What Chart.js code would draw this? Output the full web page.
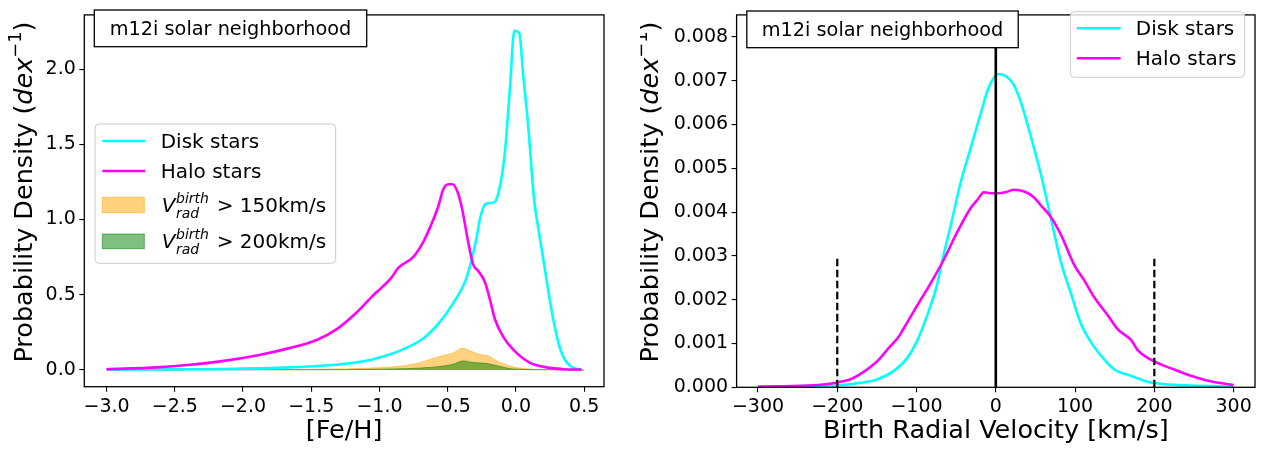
<!DOCTYPE html>
<html>
<head>
<meta charset="utf-8">
<script src="https://cdn.jsdelivr.net/npm/chart.js@4.4.1/dist/chart.umd.min.js"></script>
<style>
  body { margin: 0; background: #fff; }
  #left { position: absolute; left: 0; top: 0; }
  #right { position: absolute; left: 640px; top: 0; }
</style>
</head>
<body>
<canvas id="left" width="620" height="454"></canvas>
<canvas id="right" width="629" height="454"></canvas>
<script>
// ---- left panel: [Fe/H] distributions ----
var fehDiskX = [-3.0, -2.5, -2.14, -1.66, -1.29, -1.05, -0.92, -0.85, -0.68, -0.56, -0.46, -0.37, -0.325, -0.29, -0.265, -0.227, -0.19, -0.154, -0.117, -0.081, -0.044, -0.012, 0.024, 0.053, 0.09, 0.13, 0.176, 0.225, 0.273, 0.322, 0.36, 0.396, 0.44, 0.48];
var fehDiskY = [0.002, 0.004, 0.006, 0.017, 0.038, 0.07, 0.105, 0.128, 0.209, 0.316, 0.444, 0.594, 0.733, 0.872, 1.0, 1.10, 1.11, 1.118, 1.224, 1.449, 1.876, 2.256, 2.24, 1.96, 1.62, 1.16, 0.872, 0.594, 0.337, 0.145, 0.065, 0.028, 0.008, 0.002];

var fehHaloX = [-3.0, -2.63, -2.39, -2.14, -1.9, -1.66, -1.46, -1.31, -1.17, -1.045, -0.92, -0.86, -0.75, -0.68, -0.62, -0.57, -0.533, -0.496, -0.464, -0.43, -0.398, -0.35, -0.313, -0.276, -0.227, -0.19, -0.154, -0.093, -0.02, 0.1, 0.225, 0.35, 0.48];
var fehHaloY = [0.005, 0.017, 0.034, 0.06, 0.096, 0.145, 0.199, 0.273, 0.38, 0.497, 0.605, 0.68, 0.754, 0.85, 0.968, 1.085, 1.20, 1.235, 1.235, 1.188, 1.085, 0.85, 0.70, 0.658, 0.583, 0.465, 0.337, 0.22, 0.135, 0.049, 0.017, 0.005, 0.002];

var feh150X = [-3.0, -2.0, -1.5, -1.0, -0.75, -0.56, -0.46, -0.39, -0.34, -0.265, -0.2, -0.14, -0.045, 0.05, 0.2, 0.5];
var feh150Y = [0.0, 0.002, 0.005, 0.015, 0.038, 0.09, 0.113, 0.145, 0.128, 0.102, 0.092, 0.06, 0.026, 0.01, 0.003, 0.0];

var feh200X = [-3.0, -1.5, -1.0, -0.63, -0.46, -0.39, -0.31, -0.215, -0.14, -0.02, 0.2, 0.5];
var feh200Y = [0.0, 0.001, 0.005, 0.017, 0.038, 0.06, 0.049, 0.043, 0.028, 0.006, 0.001, 0.0];

// ---- right panel: birth radial velocity ----
var velDiskX = [-300, -240, -200, -176, -150, -129, -112, -100, -87, -74, -66, -57, -45, -32, -19, -9, 3, 21, 31, 44, 57, 69, 82, 95, 107, 120, 137, 150, 171, 192, 213, 247, 300];
var velDiskY = [0.0, 0.00001, 0.00004, 0.00009, 0.00018, 0.00037, 0.00066, 0.00103, 0.00162, 0.00235, 0.00301, 0.00368, 0.00463, 0.00544, 0.00625, 0.00684, 0.00715, 0.00695, 0.00654, 0.00574, 0.00485, 0.00390, 0.00287, 0.00213, 0.00147, 0.00103, 0.00063, 0.00040, 0.00026, 0.000125, 0.00007, 0.00004, 0.000015];

var velHaloX = [-300, -239, -214, -200, -184, -172, -155, -146, -136, -123, -117, -100, -83, -66, -49, -32, -24, -15, -7, 2, 12, 23, 36, 48, 57, 69, 82, 99, 112, 124, 141, 154, 171, 179, 200, 226, 247, 268, 300];
var velHaloY = [0.000015, 0.00004, 0.00007, 0.00011, 0.00018, 0.00029, 0.00051, 0.00066, 0.00088, 0.00114, 0.00132, 0.00184, 0.00235, 0.00290, 0.00353, 0.00408, 0.00426, 0.00445, 0.00443, 0.00443, 0.00445, 0.00451, 0.00447, 0.00434, 0.00415, 0.00390, 0.00349, 0.00279, 0.00243, 0.00206, 0.00165, 0.00132, 0.00107, 0.00085, 0.00059, 0.00040, 0.00026, 0.00015, 0.00005];

var refLineX = [-200, 0, 200];
var refLineTop = [0.003, 0.0085, 0.003];

var FONT = '"DejaVu Sans", sans-serif';
Chart.defaults.font.family = FONT;
Chart.defaults.color = '#000';

function pts(xs, ys) {
  var out = [];
  for (var i = 0; i < xs.length; i++) out.push({x: xs[i], y: ys[i]});
  return out;
}

function fmt(d) {
  return function(v) {
    var s = Math.abs(v).toFixed(d);
    return (v < -1e-9 ? '\u2212' : '') + s;
  };
}

function curve(label, xs, ys, color, order) {
  return {
    label: label, data: pts(xs, ys), borderColor: color, borderWidth: 2.6,
    pointRadius: 0, fill: false, cubicInterpolationMode: 'monotone', order: order
  };
}

function band(label, xs, ys, rgb, order) {
  return {
    label: label, data: pts(xs, ys), borderColor: 'rgba(' + rgb + ',0.55)', borderWidth: 1,
    backgroundColor: 'rgba(' + rgb + ',0.5)', pointRadius: 0, fill: 'origin',
    cubicInterpolationMode: 'monotone', order: order
  };
}

function axis(min, max, step, digits, size, title) {
  var a = {
    type: 'linear', min: min, max: max,
    ticks: {stepSize: step, includeBounds: false, autoSkip: false, maxRotation: 0,
            callback: fmt(digits), font: {size: 19}, color: '#000', padding: 3.5},
    grid: {drawOnChartArea: false, drawTicks: true, tickLength: 5, color: '#000', lineWidth: 1.1},
    border: {display: false}
  };
  if (title) {
    a.title = {display: true, text: title, color: '#000',
               font: {size: 25.5, lineHeight: 1.2}, padding: {top: 0, bottom: 7}};
    a.afterFit = function(s) { s.height = size; };
  } else {
    a.afterFit = function(s) { s.width = size; };
  }
  return a;
}

// rotated y label with italic "dex" and superscript -1
function yTitle(ctx, bx, cy) {
  var fs = 25.5;
  var parts = [
    ['Probability Density (', fs + 'px ' + FONT, 0],
    ['dex', 'italic ' + fs + 'px ' + FONT, 0],
    ['\u22121', (fs * 0.7) + 'px ' + FONT, -fs * 0.42],
    [')', fs + 'px ' + FONT, 0]
  ];
  var total = 0;
  parts.forEach(function(p) { ctx.font = p[1]; p.push(ctx.measureText(p[0]).width); total += p[3]; });
  ctx.save();
  ctx.translate(bx, cy);
  ctx.rotate(-Math.PI / 2);
  ctx.fillStyle = '#000';
  ctx.textBaseline = 'alphabetic';
  var x = -total / 2;
  parts.forEach(function(p) { ctx.font = p[1]; ctx.fillText(p[0], x, p[2]); x += p[3]; });
  ctx.restore();
}

function textBox(ctx, x, y, w, h, base) {
  ctx.save();
  ctx.fillStyle = '#fff';
  ctx.fillRect(x, y, w, h);
  ctx.strokeStyle = '#000';
  ctx.lineWidth = 1.3;
  ctx.strokeRect(x, y, w, h);
  ctx.fillStyle = '#000';
  ctx.font = '19.3px ' + FONT;
  ctx.textAlign = 'center';
  ctx.fillText('m12i solar neighborhood', x + w / 2, base);
  ctx.restore();
}

function legendFrame(ctx, x, y, w, h) {
  ctx.save();
  ctx.beginPath();
  ctx.roundRect(x, y, w, h, 4);
  ctx.fillStyle = 'rgba(255,255,255,0.8)';
  ctx.fill();
  ctx.strokeStyle = '#cccccc';
  ctx.lineWidth = 1;
  ctx.stroke();
  ctx.restore();
}

function legendLine(ctx, x0, x1, y, color, label, tx, base) {
  ctx.save();
  ctx.strokeStyle = color;
  ctx.lineWidth = 2.6;
  ctx.beginPath(); ctx.moveTo(x0, y); ctx.lineTo(x1, y); ctx.stroke();
  ctx.fillStyle = '#000';
  ctx.font = '20px ' + FONT;
  ctx.fillText(label, tx, base);
  ctx.restore();
}

function legendPatch(ctx, x, y, w, h, rgb, cut, tx, base) {
  ctx.save();
  ctx.fillStyle = 'rgba(' + rgb + ',0.5)';
  ctx.fillRect(x, y, w, h);
  ctx.strokeStyle = 'rgba(' + rgb + ',0.55)';
  ctx.lineWidth = 1;
  ctx.strokeRect(x, y, w, h);
  ctx.fillStyle = '#000';
  ctx.font = 'italic 20px ' + FONT;
  ctx.fillText('V', tx, base);
  ctx.font = 'italic 14px ' + FONT;
  ctx.fillText('birth', tx + 14.3, base - 8.4);
  ctx.fillText('rad', tx + 14.3, base + 6.6);
  ctx.font = '20px ' + FONT;
  ctx.fillText('> ' + cut + 'km/s', tx + 55, base);
  ctx.restore();
}

function frame(chart) {
  var a = chart.chartArea, ctx = chart.ctx;
  ctx.save();
  ctx.strokeStyle = '#000';
  ctx.lineWidth = 1.3;
  ctx.strokeRect(a.left, a.top, a.right - a.left, a.bottom - a.top);
  ctx.restore();
}

var leftDecor = {
  id: 'leftDecor',
  afterDraw: function(chart) {
    var ctx = chart.ctx;
    frame(chart);
    yTitle(ctx, 32, 192);
    textBox(ctx, 94.3, 10, 272.4, 36.7, 35);
    legendFrame(ctx, 95, 124, 240.7, 139.3);
    legendLine(ctx, 102.3, 145, 141, '#00ffff', 'Disk stars', 160.7, 148);
    legendLine(ctx, 102.3, 145, 171, '#ff00ff', 'Halo stars', 160.7, 178);
    legendPatch(ctx, 102.3, 197.3, 42, 15.4, '255,165,0', 150, 161.7, 211.7);
    legendPatch(ctx, 102.3, 234, 42, 14.7, '0,128,0', 200, 161.7, 247.7);
  }
};

var rightDecor = {
  id: 'rightDecor',
  afterDraw: function(chart) {
    var ctx = chart.ctx;
    frame(chart);
    yTitle(ctx, 18, 192);
    textBox(ctx, 106.8, 11, 271.4, 36.7, 36);
    legendFrame(ctx, 430.4, 11.7, 174.2, 65.6);
    legendLine(ctx, 436.8, 480.6, 28.3, '#00ffff', 'Disk stars', 495.8, 35);
    legendLine(ctx, 436.8, 480.6, 58.3, '#ff00ff', 'Halo stars', 495.8, 65);
  }
};

var common = {
  responsive: false,
  animation: false,
  plugins: {legend: {display: false}, tooltip: {enabled: false}}
};

new Chart(document.getElementById('left'), {
  type: 'line',
  data: {
    datasets: [
      curve('Disk stars', fehDiskX, fehDiskY, '#00ffff', 2),
      curve('Halo stars', fehHaloX, fehHaloY, '#ff00ff', 1),
      band('V > 150km/s', feh150X, feh150Y, '255,165,0', 4),
      band('V > 200km/s', feh200X, feh200Y, '0,128,0', 3)
    ]
  },
  options: Object.assign({}, common, {
    layout: {padding: {left: 0, right: 16, top: 1, bottom: 0}},
    scales: {
      x: axis(-3.163, 0.645, 0.5, 1, 67.3, '[Fe/H]'),
      y: axis(-0.1115, 2.361, 0.5, 1, 84.3)
    }
  }),
  plugins: [leftDecor]
});

var refSets = refLineX.map(function(x, i) {
  return {
    label: 'ref ' + x, data: [{x: x, y: 0}, {x: x, y: refLineTop[i]}],
    borderColor: '#000', borderWidth: x === 0 ? 2.6 : 2.2, borderDash: x === 0 ? [] : [7.5, 3.5],
    pointRadius: 0, fill: false, order: 0
  };
});

new Chart(document.getElementById('right'), {
  type: 'line',
  data: {
    datasets: [
      curve('Disk stars', velDiskX, velDiskY, '#00ffff', 2),
      curve('Halo stars', velHaloX, velHaloY, '#ff00ff', 1)
    ].concat(refSets)
  },
  options: Object.assign({}, common, {
    layout: {padding: {left: 0, right: 14, top: 1, bottom: 0}},
    scales: {
      x: axis(-327, 327, 100, 0, 66.7, 'Birth Radial Velocity [km/s]'),
      y: axis(0, 0.0085, 0.001, 3, 96.6)
    }
  }),
  plugins: [rightDecor]
});
</script>
</body>
</html>
